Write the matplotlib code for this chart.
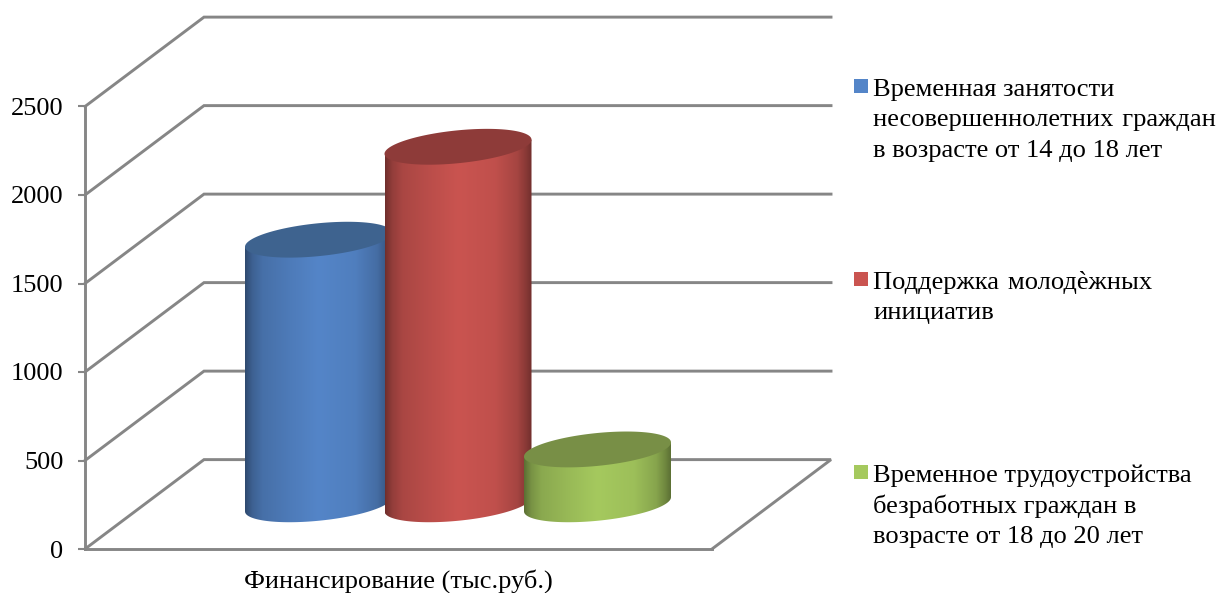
import numpy as np
import matplotlib
matplotlib.use("Agg")
import matplotlib.pyplot as plt
from matplotlib.path import Path
from matplotlib.patches import PathPatch, Rectangle
from matplotlib.transforms import Affine2D

plt.rcParams["font.family"] = ["Liberation Serif", "DejaVu Serif"]

# Chart data
category = "Финансирование (тыс.руб.)"
series_names = [
    "Временная занятости\nнесовершеннолетних \u200aграждан\nв возрасте от 14 до 18 лет",
    "Поддержка \u200aмолодѐжных\nинициатив",
    "Временное трудоустройства\nбезработных граждан в\nвозрасте от 18 до 20 лет",
]
series_values = [1495, 2020, 310]
y_ticks = [0, 500, 1000, 1500, 2000, 2500]

# Cylinder shading
base_colors = ["#5485c8", "#ca5450", "#a5c95e"]
top_colors = ["#3e638f", "#8e3b39", "#788f46"]
shade_pos = [0.0, 0.02, 0.05, 0.12, 0.32, 0.50, 0.75, 0.90, 0.96, 1.0]
shade_gain = [0.55, 0.63, 0.73, 0.84, 0.93, 1.0, 0.95, 0.82, 0.68, 0.56]

GRID = "#868686"
W, H = 1217, 593
FONT = 19
LEGEND_FONT = 19.05
LINE = 2.1

fig = plt.figure(figsize=(W / 100, H / 100), dpi=100)
ax = fig.add_axes([85 / W, (H - 549) / H, 627 / W, 442.5 / H])
ax.patch.set_alpha(0)

# Depth of the box and proportions of each cylinder, in x units / value units
depth_x, depth_y = 119, 505
slot = 139.5
half_w = 73.5
ell_depth = 93
ell_tilt = 40
base_level = depth_y / 2
center_x = 627 / 2 + depth_x / 2

ax.set_xlim(0, 627)
ax.set_ylim(0, 2500)

# Walls and floor of the box
for v in y_ticks[1:]:
    ax.plot([0, depth_x, 627 + depth_x], [v, v + depth_y, v + depth_y],
            color=GRID, lw=LINE, clip_on=False, zorder=1, solid_joinstyle="miter")
ax.plot([0, depth_x, 627 + depth_x, 627], [0, depth_y, depth_y, 0],
        color=GRID, lw=LINE, clip_on=False, zorder=1, solid_joinstyle="miter")


def ellipse_y(t, level):
    return level + ell_depth * np.sin(t) + ell_tilt * np.cos(t)


def shaded(base, gains):
    rgb = np.array(matplotlib.colors.to_rgb(base))
    xs = np.linspace(0, 1, 300)
    g = np.interp(xs, shade_pos, gains)
    return np.clip(g[None, :, None] * rgb[None, None, :], 0, 1)


for i, (value, base, top) in enumerate(zip(series_values, base_colors, top_colors)):
    cx = center_x + (i - 1) * slot
    level = base_level + value
    z = 3 + i

    # Side of the cylinder: top edge, then round the lower half of the base
    t = np.linspace(np.pi, 2 * np.pi, 80)
    xs = np.concatenate([[cx - half_w], cx + half_w * np.cos(t), [cx + half_w]])
    ys = np.concatenate([[level - ell_tilt], ellipse_y(t, base_level), [level + ell_tilt]])
    body = Path(np.column_stack([xs, ys]))
    im = ax.imshow(shaded(base, shade_gain), aspect="auto", interpolation="bilinear",
                   extent=[cx - half_w, cx + half_w, 0, level + ell_tilt], zorder=z)
    im.set_clip_path(PathPatch(body, transform=ax.transData))

    # Lid
    t = np.linspace(0, 2 * np.pi, 160)
    lid = np.column_stack([cx + half_w * np.cos(t), ellipse_y(t, level)])
    ax.add_patch(PathPatch(Path(lid), facecolor=top, edgecolor="none", zorder=z + 0.5))

ax.set_xlim(0, 627)
ax.set_ylim(0, 2500)

# Axes furniture
for side in ("top", "right"):
    ax.spines[side].set_visible(False)
for side in ("left", "bottom"):
    ax.spines[side].set_color(GRID)
    ax.spines[side].set_linewidth(LINE)
    ax.spines[side].set_zorder(2)
ax.set_yticks(y_ticks)
ax.tick_params(axis="y", direction="out", length=5, width=1.5, color=GRID,
               labelsize=FONT, pad=10.5, labelcolor="black")
ax.set_xticks([627 / 2], [category])
ax.tick_params(axis="x", length=0, labelsize=FONT, pad=14.5, labelcolor="black")

# Legend, laid out in figure pixels
px = Affine2D().scale(1 / W, -1 / H).translate(0, 1) + fig.transFigure
swatch_y = [86, 279, 472]
first_line_y = [90, 283, 476]
for name, color, sw_y, line_y in zip(series_names, base_colors, swatch_y, first_line_y):
    fig.add_artist(Rectangle((854, sw_y - 7), 14, 14, facecolor=color, edgecolor="none",
                             transform=px))
    for k, line in enumerate(name.split("\n")):
        fig.text(873, line_y + 30.3 * k, line, transform=px, fontsize=LEGEND_FONT,
                 ha="left", va="center", color="black")

fig.savefig("out.png", dpi=100)
